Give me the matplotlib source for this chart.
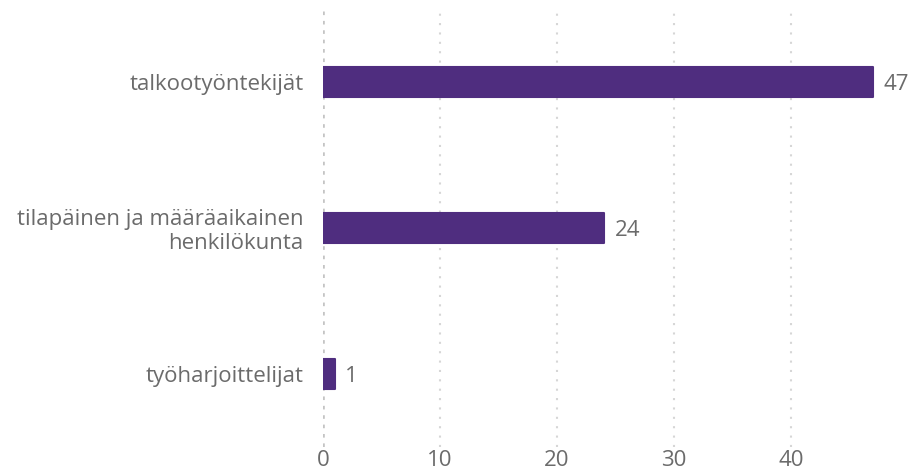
import matplotlib.pyplot as plt

categories = ['talkootyöntekijät', 'tilapäinen ja määräaikainen\nhenkilökunta', 'työharjoittelijat']
values = [47, 24, 1]
ticks = [0, 10, 20, 30, 40]

bar_color = '#4f2d7f'
text_color = '#6b6b6b'

plt.rcParams['font.family'] = ['Open Sans', 'DejaVu Sans']

fig = plt.figure(figsize=(9.15, 4.73), dpi=100)
ax = fig.add_axes([0.353, 0.055, 0.614, 0.926])

y = list(range(len(categories)))
ax.barh(y, values, height=0.2, color=bar_color, edgecolor=bar_color,
        linewidth=1.5, joinstyle='round', zorder=3)

for yi, v in zip(y, values):
    ax.text(v + 0.9, yi + 0.02, str(v), va='center', ha='left', fontsize=16, color=text_color)

ax.set_xlim(0, 48)
ax.set_ylim(2.5, -0.5)
ax.set_yticks(y)
ax.set_yticklabels(categories, fontsize=16, color=text_color, linespacing=1.15)
ax.set_xticks(ticks)
ax.set_xticklabels([str(t) for t in ticks], fontsize=16, color=text_color)
ax.tick_params(axis='x', length=0, pad=2)
ax.tick_params(axis='y', length=0, pad=14)

for t in ticks:
    if t == 0:
        ax.axvline(t, color='#c4c4c4', linestyle=(0, (1, 1.6)), linewidth=2.6, zorder=1)
    else:
        ax.axvline(t, color='#d6d6d6', linestyle=(0, (1, 3.5)), linewidth=1.5, zorder=1)

for s in ax.spines.values():
    s.set_visible(False)

fig.savefig('out.png', dpi=100)
